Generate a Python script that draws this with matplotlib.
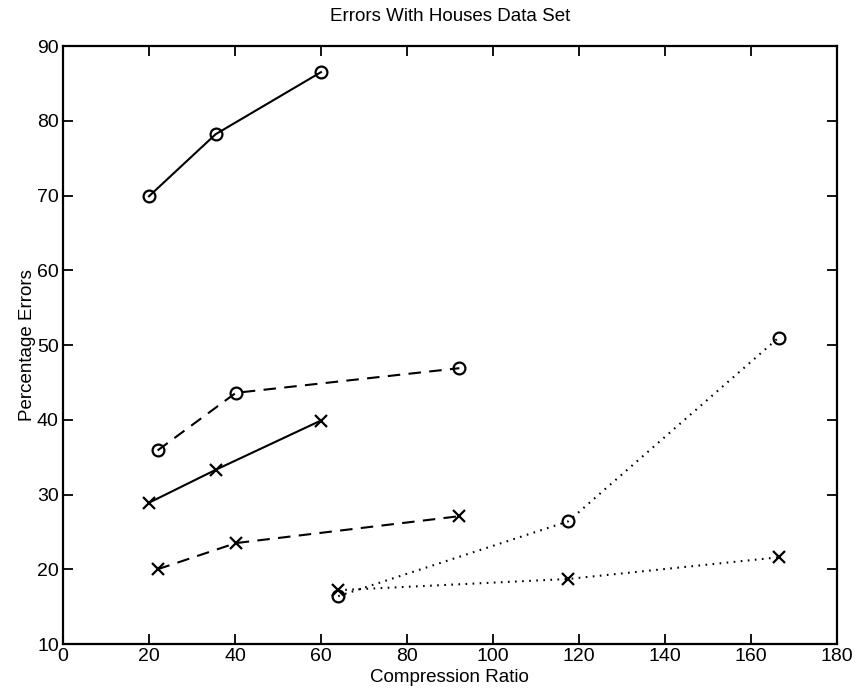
import matplotlib
matplotlib.use('Agg')
import matplotlib.pyplot as plt

plt.rcParams['font.family'] = ['Liberation Sans', 'DejaVu Sans']

# compression ratios per line style
x_solid = [20.0, 35.5, 60.0]
x_dashed = [22.0, 40.2, 92.2]
x_dotted = [64.0, 117.5, 166.5]

# percentage errors (o and x series)
solid_o = [69.9, 78.2, 86.5]
solid_x = [28.9, 33.3, 39.9]
dashed_o = [35.9, 43.6, 46.9]
dashed_x = [20.0, 23.5, 27.1]
dotted_o = [16.4, 26.4, 51.0]
dotted_x = [17.2, 18.7, 21.6]

xticks = [0, 20, 40, 60, 80, 100, 120, 140, 160, 180]
yticks = [10, 20, 30, 40, 50, 60, 70, 80, 90]

fig = plt.figure(figsize=(8.6, 6.93), dpi=100)
ax = fig.add_axes([0.0733, 0.0707, 0.8997, 0.8629])

mk = dict(color='black', lw=1.5, markersize=8.5, markerfacecolor='none',
          markeredgewidth=1.6)
dash = (0, (6, 4))
dot = (0, (0.8, 2.6))

ax.plot(x_solid, solid_o, ls='-', marker='o', **mk)
ax.plot(x_solid, solid_x, ls='-', marker='x', **mk)
ax.plot(x_dashed, dashed_o, ls=dash, marker='o', **mk)
ax.plot(x_dashed, dashed_x, ls=dash, marker='x', **mk)
ax.plot(x_dotted, dotted_o, ls=dot, marker='o', **mk)
ax.plot(x_dotted, dotted_x, ls=dot, marker='x', **mk)

ax.set_xlim(0, 180)
ax.set_ylim(10, 90)
ax.set_xticks(xticks)
ax.set_yticks(yticks)
ax.tick_params(direction='in', length=7, width=1.3, top=True, right=True,
               labelsize=14, pad=3)
for s in ax.spines.values():
    s.set_linewidth(1.6)

ax.set_title('Errors With Houses Data Set', fontsize=13.5, pad=18)
ax.set_xlabel('Compression Ratio', fontsize=13.5, labelpad=3)
ax.set_ylabel('Percentage Errors', fontsize=13.5, labelpad=1)

fig.savefig('out.png', dpi=100)
